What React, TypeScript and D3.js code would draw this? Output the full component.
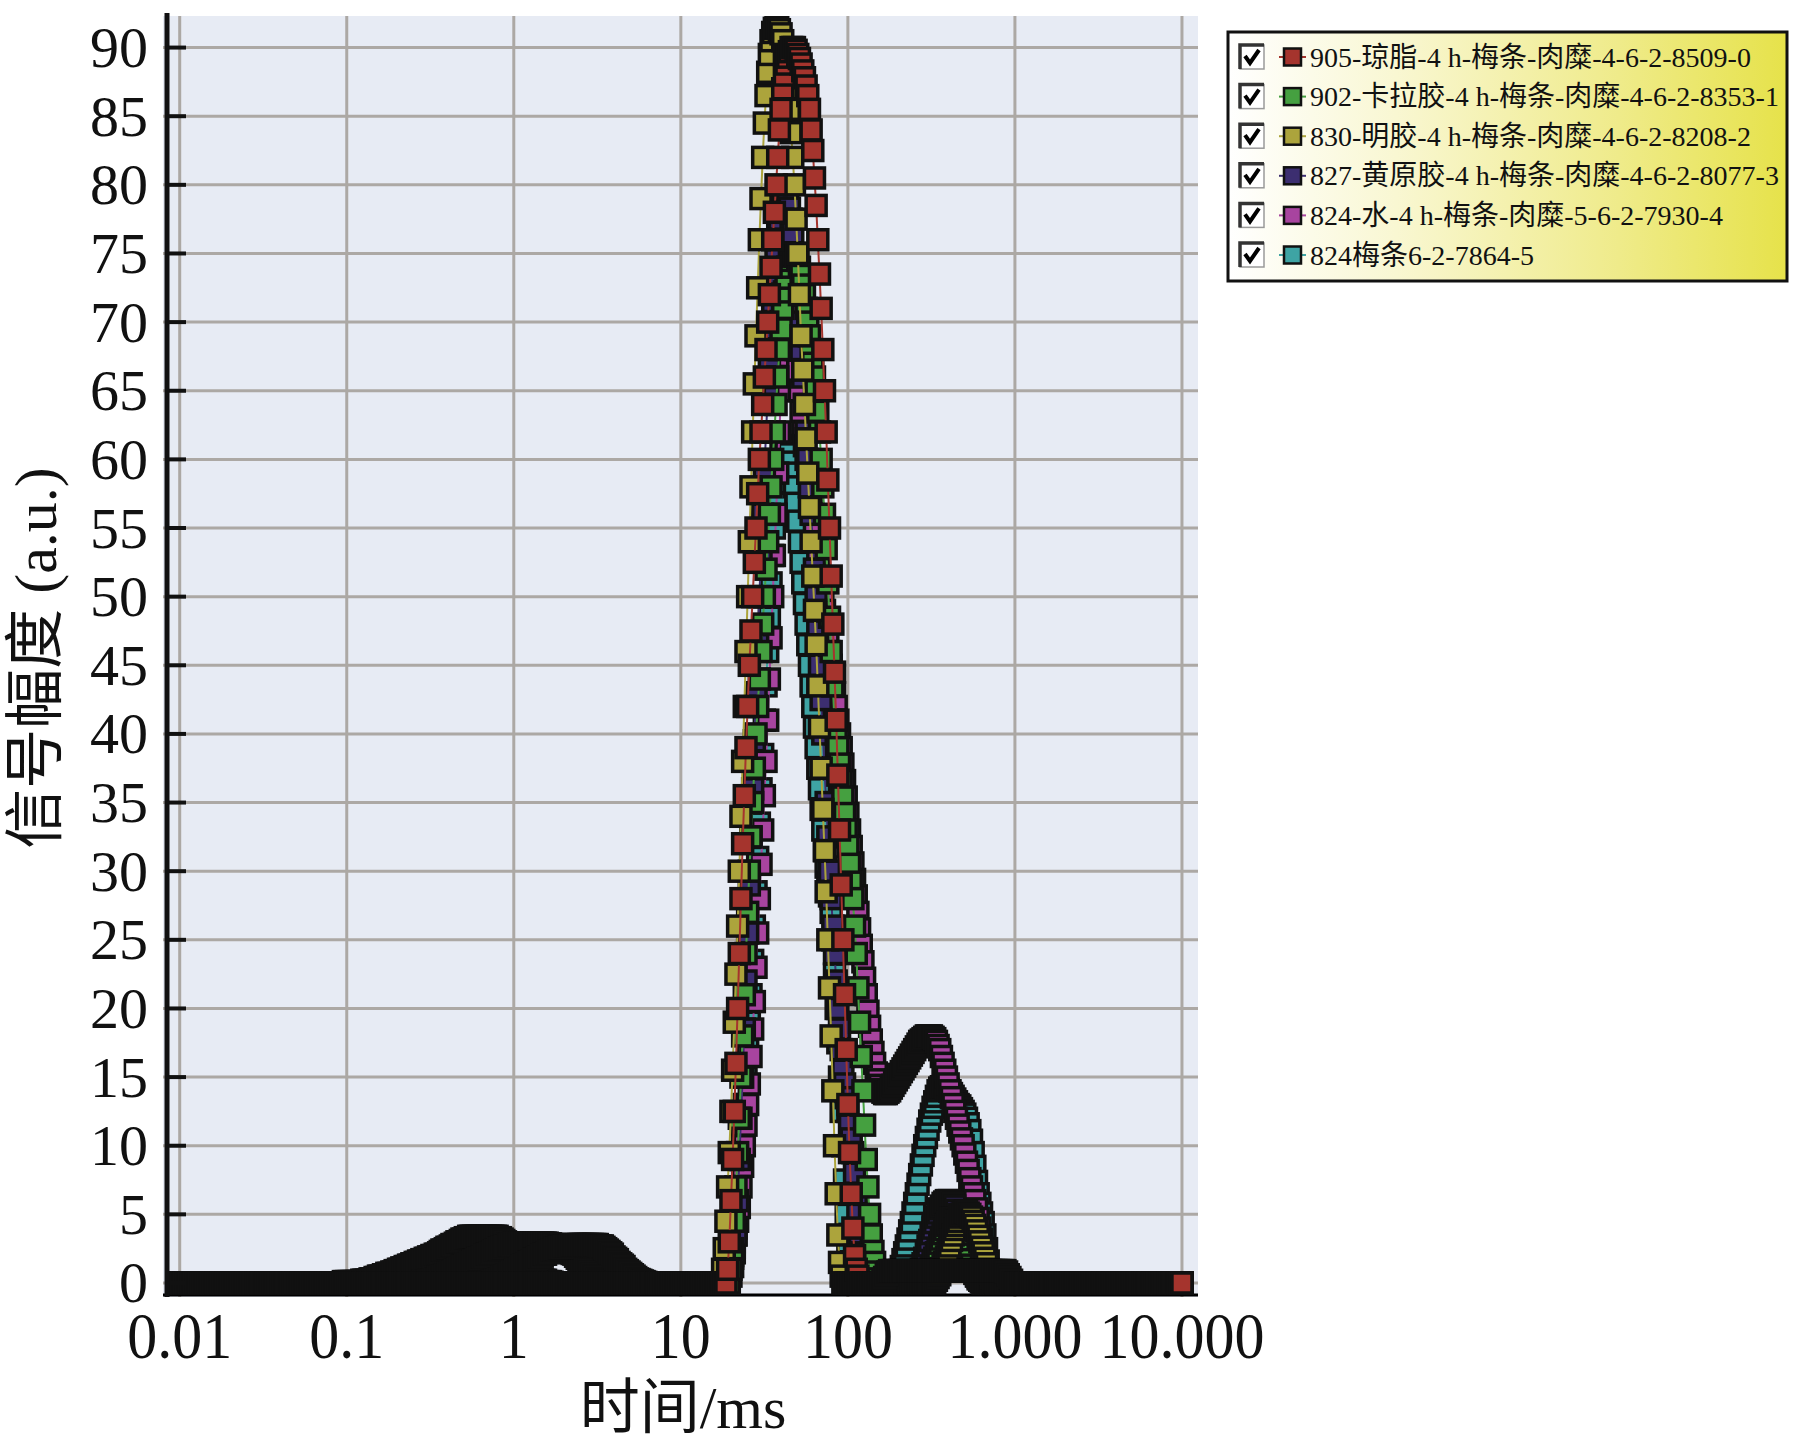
import React from "react";
import * as d3 from "d3";

// ---- time grid of the T2 inversion (log spaced, ms) ----
const GRID_FIRST_LOG = -2;
const GRID_PER_DECADE = 100;
const GRID_COUNT = 601;

// ---- ticks ----
const xTickValues = [0.01, 0.1, 1, 10, 100, 1000, 10000];
const xTickLabels = ["0.01", "0.1", "1", "10", "100", "1.000", "10.000"];
const yTickValues = [0, 5, 10, 15, 20, 25, 30, 35, 40, 45, 50, 55, 60, 65, 70, 75, 80, 85, 90];

const seriesNames = [
  "905-琼脂-4 h-梅条-肉糜-4-6-2-8509-0",
  "902-卡拉胶-4 h-梅条-肉糜-4-6-2-8353-1",
  "830-明胶-4 h-梅条-肉糜-4-6-2-8208-2",
  "827-黄原胶-4 h-梅条-肉糜-4-6-2-8077-3",
  "824-水-4 h-梅条-肉糜-5-6-2-7930-4",
  "824梅条6-2-7864-5",
];
const seriesColors = ["#a5342d", "#45a040", "#aca43c", "#3c2e70", "#a8449f", "#3ea4a4"];

// ---- amplitudes: segments [first grid index, values]; amplitude is 0 elsewhere ----
const agar905 = [
  [327, [0, 1, 3, 6, 9, 12.5, 16, 20, 24, 28,
    32, 35.5, 39, 42, 45, 47.5, 50, 52.5, 55, 57.5,
    60, 62, 64, 66, 68, 70, 72, 74, 76, 78,
    80, 82, 84, 85.5, 87, 88, 88.8, 89.3, 89.7, 90,
    90, 90, 89.8, 89.5, 89.2, 88.8, 88.3, 87.8, 87.2, 86.5,
    85.5, 84, 82.5, 80.5, 78.5, 76, 73.5, 71, 68, 65,
    62, 58.5, 55, 51.5, 48, 44.5, 41, 37, 33, 29,
    25, 21, 17, 13, 9.5, 6.5, 4, 2, 1, 0.5,
    0]],
  [420, [0, 0.2, 0.4, 0.6, 0.8,
    0.9, 0.9, 0.9, 0.9, 0.9, 0.9, 0.9, 0.9, 0.9, 0.9,
    0.9, 0.9, 0.9, 0.9, 0.9, 0.9, 0.9, 0.9, 0.9, 0.9,
    0.9, 0.9, 0.9, 0.9, 0.9, 0.9, 0.9, 0.9, 0.9, 0.9,
    0.9, 0.9, 0.9, 0.9, 0.9, 0.9, 0.9, 0.9, 0.9, 0.9,
    0.9, 0.9, 0.9, 0.9, 0.9, 0.9, 0.9, 0.9, 0.9, 0.9,
    0.9, 0.9, 0.9, 0.9, 0.9, 0.9, 0.9, 0.9, 0.9, 0.9,
    0.9, 0.9, 0.9, 0.9, 0.9, 0.9, 0.9, 0.9, 0.9, 0.9,
    0.8, 0.6, 0.4, 0.2, 0]],
];

const carrageenan902 = [
  [329, [0, 1, 2.5, 4.5, 7, 9.5, 12, 15, 18, 21,
    24, 27, 30, 32.5, 35, 37.5, 40, 42, 44, 46,
    48, 50, 52, 54, 56, 58, 60, 62, 64, 66,
    68, 69.5, 71, 72.2, 73.2, 74, 74.5, 74.8, 75, 75,
    74.8, 74.5, 74, 73.4, 72.7, 72, 71, 70, 69, 68,
    67, 66, 65, 63.5, 62, 60, 58, 56, 53.5, 51,
    48.5, 46, 43.5, 41, 40, 39, 37.8, 36.6, 35.4, 34.2,
    33, 31.8, 30.5, 29.2, 28, 26, 24, 21.5, 19, 16.5,
    14, 11.5, 9, 7, 5, 3.5, 2.3, 1.5, 0.8, 0.3,
    0]],
  [445, [0, 0.2, 0.4, 0.6, 0.9, 1.2, 1.5, 1.8, 2.2, 2.5,
    2.9, 3.2, 3.6, 3.9, 4.2, 4.4, 4.6, 4.7, 4.7, 4.6,
    4.5, 4.3, 4.0, 3.7, 3.3, 2.9, 2.5, 2.1, 1.7, 1.3,
    1.0, 0.7, 0.5, 0.3, 0.2, 0.1, 0]],
];

const gelatin830 = [
  [324, [0, 1, 2.5, 4.5, 7, 9.5, 12.5, 15.5, 19, 22.5,
    26, 30, 34, 38, 42, 46, 50, 54, 58, 62,
    65.5, 69, 72.5, 76, 79, 82, 84.5, 86.5, 88.2, 89.5,
    90.5, 91.1, 91.4, 91.5, 91.5, 91.3, 91, 90.5, 89.5, 88.3,
    87, 85.5, 83.8, 82, 80, 77.5, 75, 72, 69, 66.5,
    64, 61.5, 59, 56.5, 54, 51.5, 49, 46.5, 43.5, 40.5,
    37.5, 34.5, 31.5, 28.5, 25, 21.5, 18, 14, 10, 6.5,
    3.5, 1.5, 0.5, 0]],
  [452, [0, 0.2, 0.4, 0.6, 0.9, 1.2, 1.5, 1.9, 2.3, 2.7,
    3.1, 3.5, 3.9, 4.2, 4.5, 4.8, 5.0, 5.1, 5.2, 5.2,
    5.1, 5.0, 4.8, 4.5, 4.2, 3.8, 3.4, 3.0, 2.6, 2.2,
    1.8, 1.4, 1.0, 0.7, 0.4, 0.2, 0.1, 0]],
];

const xanthan827 = [
  [185, [0, 0, 0.1, 0.1, 0.2, 0.2, 0.3, 0.3, 0.4, 0.4,
    0.5, 0.6, 0.6, 0.7, 0.8, 0.8, 0.9, 1.0, 1.0, 1.1,
    1.2, 1.3, 1.3, 1.4, 1.5, 1.5, 1.6, 1.7, 1.7, 1.8,
    1.9, 1.9, 2.0, 2.1, 2.1, 2.2, 2.3, 2.3, 2.4, 2.4,
    2.5, 2.5, 2.6, 2.6, 2.6, 2.7, 2.7, 2.7, 2.7, 2.7,
    2.8, 2.8, 2.8, 2.8, 2.8, 2.8, 2.8, 2.8, 2.8, 2.8,
    2.8, 2.8, 2.8, 2.8, 2.8, 2.8, 2.7, 2.7, 2.7, 2.6,
    2.5, 2.4, 2.3, 2.2, 2.1, 1.9, 1.8, 1.7, 1.5, 1.4,
    1.3, 1.2, 1.0, 0.9, 0.8, 0.7, 0.6, 0.5, 0.4, 0.3,
    0.25, 0.2, 0.15, 0.1, 0.05, 0]],
  [329, [0, 0.5, 1.2, 2.2, 3.5, 6, 9, 12, 15, 18.5,
    22, 25.5, 29, 32.5, 36, 39.5, 43, 46.5, 50, 53,
    56, 59, 62, 64.5, 67, 69.5, 71.5, 73.5, 75, 76.5,
    77.5, 78.3, 78.8, 79, 79, 78.8, 78.3, 77.5, 76.5, 75,
    73.5, 72, 70, 68, 66, 64, 62, 60, 58, 56,
    54, 52, 50, 47.5, 45, 42.5, 40, 37.5, 35, 32.5,
    30, 28, 26, 24, 22, 20, 18.5, 17, 15.5, 14.5,
    13.5, 12.5, 11.5, 10.5, 9.5, 8, 6.5, 5, 3.5, 2.2,
    1.2, 0.5, 0]],
  [440, [0, 0.2, 0.4, 0.7, 1.0, 1.4, 1.8, 2.2, 2.7, 3.1,
    3.6, 4.0, 4.4, 4.8, 5.1, 5.4, 5.6, 5.8, 5.9, 6.0,
    6.0, 6.0, 5.9, 5.8, 5.6, 5.3, 5.0, 4.6, 4.2, 3.8,
    3.3, 2.9, 2.4, 2.0, 1.6, 1.2, 0.9, 0.6, 0.4, 0.2,
    0.1, 0]],
];

const water824 = [
  [140, [0, 0, 0, 0, 0, 0, 0.1, 0.1, 0.1, 0.1,
    0.1, 0.2, 0.2, 0.3, 0.3, 0.4, 0.4, 0.5, 0.5, 0.6,
    0.6, 0.7, 0.7, 0.8, 0.8, 0.9, 1.0, 1.0, 1.1, 1.2,
    1.2, 1.3, 1.3, 1.4, 1.5, 1.5, 1.6, 1.6, 1.7, 1.8,
    1.8, 1.9, 1.9, 2.0, 2.1, 2.1, 2.2, 2.2, 2.3, 2.4,
    2.4, 2.5, 2.5, 2.6, 2.6, 2.7, 2.7, 2.8, 2.8, 2.8,
    2.9, 2.9, 2.9, 2.9, 2.9, 2.9, 2.9, 2.9, 2.9, 2.9,
    2.9, 2.9, 2.9, 2.9, 2.9, 2.9, 2.9, 2.9, 2.9, 2.9,
    2.9, 2.85, 2.85, 2.8, 2.8, 2.75, 2.7, 2.65, 2.6, 2.55,
    2.5, 2.4, 2.35, 2.3, 2.2, 2.15, 2.1, 1.95, 1.8, 1.7,
    1.55, 1.4, 1.3, 1.15, 1.0, 0.9, 0.75, 0.65, 0.5, 0.4,
    0.3, 0.2, 0.1, 0.05, 0]],
  [327, [0, 0.3, 0.7, 1.2, 1.8, 2.6, 3.5, 4.5, 5.5, 7,
    8.5, 10, 11.5, 13, 14.5, 16.5, 18.5, 20.5, 23, 25.5,
    28, 30.5, 33, 35.5, 38, 41, 44, 47, 50, 53,
    56, 59, 62, 65, 67.5, 69.5, 71, 72, 72.3, 72,
    71, 69.5, 68, 66.5, 65, 63.5, 62, 61, 60, 59,
    58, 57, 56, 55, 54, 53, 52, 51, 50, 49,
    48, 47, 46, 45, 44, 43, 42, 41, 40, 39,
    37.8, 36.6, 35.4, 34.2, 33, 31.8, 30.6, 29.4, 28.2, 27,
    25.8, 24.6, 23.4, 22.2, 21, 19.8, 18.7, 17.7, 16.8, 16,
    15.3, 14.8, 14.4, 14.1, 13.9, 13.8, 13.8, 13.9, 14.0, 14.2,
    14.4, 14.6, 14.8, 15.0, 15.2, 15.4, 15.6, 15.8, 16.0, 16.2,
    16.4, 16.6, 16.8, 17.0, 17.2, 17.4, 17.6, 17.7, 17.8, 17.9,
    18.0, 18.0, 18.0, 18.0, 17.9, 17.8, 17.6, 17.3, 17.0, 16.5,
    16.0, 15.5, 15.0, 14.5, 14.0, 13.5, 13.0, 12.5, 12.0, 11.5,
    11.0, 10.5, 10.0, 9.4, 8.8, 8.2, 7.6, 7.0, 6.5, 6.0,
    5.4, 4.7, 4.0, 3.2, 2.4, 1.6, 0.9, 0.4, 0.1, 0]],
];

const plum824 = [
  [94, [0, 0, 0, 0, 0.1, 0.1, 0.1, 0.1, 0.1, 0.1,
    0.1, 0.1, 0.1, 0.1, 0.1, 0.2, 0.2, 0.2, 0.2, 0.2,
    0.3, 0.3, 0.3, 0.4, 0.4, 0.5, 0.5, 0.5, 0.6, 0.6,
    0.7, 0.7, 0.7, 0.8, 0.8, 0.9, 0.9, 1.0, 1.0, 1.1,
    1.1, 1.2, 1.2, 1.3, 1.3, 1.4, 1.4, 1.5, 1.5, 1.6,
    1.6, 1.7, 1.7, 1.8, 1.8, 1.9, 1.9, 2.0, 2.0, 2.1,
    2.1, 2.2, 2.3, 2.4, 2.4, 2.5, 2.6, 2.6, 2.7, 2.8,
    2.8, 2.9, 3.0, 3.0, 3.1, 3.2, 3.2, 3.3, 3.3, 3.4,
    3.4, 3.4, 3.4, 3.4, 3.4, 3.4, 3.4, 3.4, 3.4, 3.4,
    3.4, 3.4, 3.4, 3.4, 3.4, 3.4, 3.4, 3.3, 3.3, 3.2,
    3.1, 3.0, 2.8, 2.7, 2.5, 2.3, 2.2, 2.0, 1.8, 1.7,
    1.5, 1.4, 1.2, 1.1, 1.0, 0.9, 0.8, 0.7, 0.6, 0.5,
    0.4, 0.4, 0.3, 0.3, 0.2, 0.2, 0.1, 0.1, 0.1, 0.05,
    0]],
  [327, [0, 0.4, 0.8, 1.3, 2, 3, 4, 5.5, 7, 9,
    11, 13, 15, 17, 19, 21, 23.5, 26, 28.5, 31,
    33.5, 36, 38.5, 41, 43.5, 46, 48.5, 51, 53, 55,
    56.8, 58.3, 59.5, 60.3, 60.8, 61, 61, 60.8, 60.4, 59.8,
    59, 58, 56.8, 55.5, 54, 52.5, 51, 49.5, 48, 46.5,
    45, 43.5, 42, 40.5, 39, 37.5, 36, 34.5, 33, 31.5,
    30.3, 29.2, 28.2, 27, 25, 22.5, 20, 17.5, 15, 12.5,
    10, 7.5, 5, 3, 1.5, 0.5, 0]],
  [428, [0, 0.3, 0.6, 0.9, 1.2, 1.7, 2.2, 2.7, 3.2, 3.8,
    4.4, 5.1, 5.8, 6.5, 7.2, 7.9, 8.6, 9.3, 10.0, 10.6,
    11.2, 11.8, 12.3, 12.8, 13.2, 13.6, 14.0, 14.2, 14.3, 14.3,
    14.3, 14.2, 14.1, 14.0, 13.8, 13.6, 13.4, 13.2, 13.0, 12.9,
    12.7, 12.5, 12.3, 12.0, 11.6, 11.1, 10.4, 9.5, 8.5, 7.4,
    6.5, 5.8, 5.1, 4.4, 3.5, 2.5, 1.6, 0.9, 0.4, 0.1,
    0]],
];

const seriesSegments = [agar905, carrageenan902, gelatin830, xanthan827, water824, plum824];
const drawOrder = [5, 4, 3, 1, 2, 0];

const SERIF = "'Liberation Serif','Times New Roman','Noto Sans CJK SC',serif";

function expand(segs: any[]): number[] {
  const arr = new Array(GRID_COUNT).fill(0);
  for (const [start, vals] of segs) {
    (vals as number[]).forEach((v, k) => {
      arr[start + k] = v;
    });
  }
  return arr;
}

export default function App() {
  const W = 1802;
  const H = 1452;
  const plot = { left: 163, right: 1198, top: 16, bottom: 1297 };

  const x = d3.scaleLog().domain([Math.pow(10, -2.1), Math.pow(10, 4.096)]).range([plot.left, plot.right]);
  const y = d3.scaleLinear().domain([-1.02, 92.3]).range([plot.bottom, plot.top]);

  const times = d3.range(GRID_COUNT).map((i) => Math.pow(10, GRID_FIRST_LOG + i / GRID_PER_DECADE));
  const series = seriesSegments.map((segs, si) => {
    const vals = expand(segs);
    return { name: seriesNames[si], color: seriesColors[si], points: vals.map((v, i) => [times[i], v] as [number, number]) };
  });

  const line = d3
    .line<[number, number]>()
    .x((d) => x(d[0]))
    .y((d) => y(d[1]));

  const MS = 20; // marker side
  const axisX = 167;

  const legend = { x: 1228, y: 32, w: 559, h: 249 };
  const rowY = (k: number) => 57 + k * 39.6;

  return (
    <svg
      width={W}
      height={H}
      viewBox={`0 0 ${W} ${H}`}
      style={{ position: "absolute", left: 0, top: 0, background: "#ffffff" }}
    >
      <defs>
        <clipPath id="plotClip">
          <rect x={plot.left} y={plot.top} width={plot.right - plot.left} height={plot.bottom - plot.top} />
        </clipPath>
        <clipPath id="legClip">
          <rect x={legend.x} y={legend.y} width={legend.w - 2} height={legend.h} />
        </clipPath>
        <linearGradient id="legGrad" x1="0" x2="1" y1="0" y2="0">
          <stop offset="0" stopColor="#ffffff" />
          <stop offset="0.3" stopColor="#f9f7d2" />
          <stop offset="0.7" stopColor="#efeb8a" />
          <stop offset="1" stopColor="#e6e24a" />
        </linearGradient>
      </defs>

      {/* plot background */}
      <rect x={plot.left} y={plot.top} width={plot.right - plot.left} height={plot.bottom - plot.top} fill="#e7ebf4" />

      {/* grid */}
      <g stroke="#aca8a4" strokeWidth={3}>
        {xTickValues.map((t) => (
          <line key={"gx" + t} x1={x(t)} x2={x(t)} y1={plot.top} y2={plot.bottom} />
        ))}
        {yTickValues.map((v) => (
          <line key={"gy" + v} x1={plot.left} x2={plot.right} y1={y(v)} y2={y(v)} />
        ))}
      </g>

      {/* x axis baseline */}
      <line x1={plot.left} x2={plot.right} y1={plot.bottom - 2} y2={plot.bottom - 2} stroke="#000" strokeWidth={3} />

      {/* series */}
      <g clipPath="url(#plotClip)">
        {drawOrder.map((si) => {
          const s = series[si];
          return (
            <g key={"s" + si}>
              <path d={line(s.points) || ""} fill="none" stroke={s.color} strokeWidth={2} />
              {s.points.map((p, i) => (
                <rect
                  key={i}
                  x={x(p[0]) - MS / 2}
                  y={y(p[1]) - MS / 2}
                  width={MS}
                  height={MS}
                  fill={s.color}
                  stroke="#111"
                  strokeWidth={3.5}
                />
              ))}
            </g>
          );
        })}
      </g>

      {/* y axis */}
      <line x1={axisX} x2={axisX} y1={13} y2={plot.bottom} stroke="#111" strokeWidth={5} />
      {yTickValues.map((v) => (
        <g key={"yt" + v}>
          <line x1={axisX} x2={axisX + 19} y1={y(v)} y2={y(v)} stroke="#111" strokeWidth={4} />
          <text
            x={148}
            y={y(v)}
            textAnchor="end"
            dominantBaseline="central"
            fontFamily={SERIF}
            fontSize={58}
            fill="#111"
          >
            {v}
          </text>
        </g>
      ))}

      {/* x tick labels */}
      {xTickValues.map((t, i) => (
        <text
          key={"xt" + t}
          transform={`translate(${x(t)},1358) scale(1,1.1)`}
          textAnchor="middle"
          fontFamily={SERIF}
          fontSize={60}
          fill="#111"
        >
          {xTickLabels[i]}
        </text>
      ))}

      {/* axis titles */}
      <text x={683} y={1428} textAnchor="middle" fontFamily={SERIF} fontSize={60} fill="#111">
        时间/ms
      </text>
      <text
        transform="translate(56,658) rotate(-90)"
        textAnchor="middle"
        fontFamily={SERIF}
        fontSize={60}
        fill="#111"
      >
        信号幅度 (a.u.)
      </text>

      {/* legend */}
      <rect x={legend.x} y={legend.y} width={legend.w} height={legend.h} fill="url(#legGrad)" stroke="#111" strokeWidth={3} />
      <g clipPath="url(#legClip)">
        {series.map((s, k) => {
          const cy = rowY(k);
          const bx = 1240;
          return (
            <g key={"lg" + k}>
              <rect x={bx} y={cy - 12} width={24} height={24} fill="#ffffff" stroke="#9a9a9a" strokeWidth={1.5} />
              <path d={`M${bx} ${cy + 12} V${cy - 12} H${bx + 24}`} fill="none" stroke="#333" strokeWidth={3.5} />
              <path
                d={`M${bx + 5} ${cy - 1} L${bx + 10} ${cy + 6} L${bx + 19} ${cy - 7}`}
                fill="none"
                stroke="#000"
                strokeWidth={4}
              />
              <line x1={1279} x2={1306} y1={cy} y2={cy} stroke={s.color} strokeWidth={2} />
              <rect x={1284} y={cy - 8.5} width={17} height={17} fill={s.color} stroke="#111" strokeWidth={2.5} />
              <text x={1310} y={cy} dominantBaseline="central" fontFamily={SERIF} fontSize={28} fill="#111">
                {s.name}
              </text>
            </g>
          );
        })}
      </g>
    </svg>
  );
}
